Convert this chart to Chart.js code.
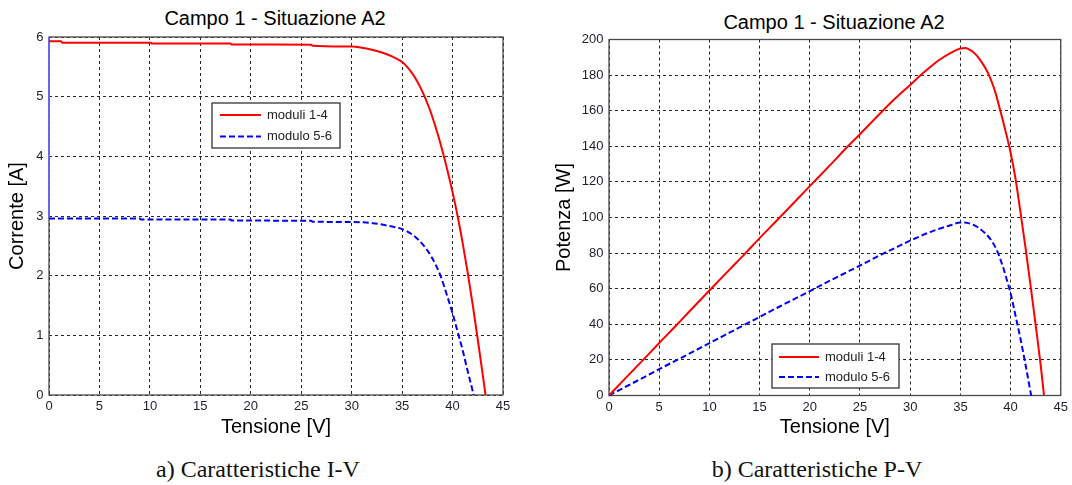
<!DOCTYPE html>
<html>
<head>
<meta charset="utf-8">
<script src="https://cdn.jsdelivr.net/npm/chart.js@4.4.0/dist/chart.umd.min.js"></script>
<style>
  html, body { margin: 0; padding: 0; background: #fff; }
  body { width: 1072px; height: 485px; position: relative; overflow: hidden; font-family: 'Liberation Sans', Arial, sans-serif; }
  .panel { position: absolute; top: 0; }
  .title { position: absolute; font-size: 20px; color: #000; white-space: nowrap; transform: translate(-50%, -50%); }
  .caption { position: absolute; font-family: 'Liberation Serif', 'Times New Roman', serif; font-size: 24px; color: #111; white-space: nowrap; transform: translate(-50%, -50%); }
</style>
</head>
<body>
<div class="title" style="left:275px; top:18px;">Campo 1 - Situazione A2</div>
<div class="title" style="left:834px; top:22px;">Campo 1 - Situazione A2</div>

<div class="panel" style="left:0; width:540px; height:445px;"><canvas id="ivChart" width="540" height="445"></canvas></div>
<div class="panel" style="left:540px; width:532px; height:445px;"><canvas id="pvChart" width="532" height="445"></canvas></div>

<div class="caption" style="left:258px; top:469px;">a) Caratteristiche I-V</div>
<div class="caption" style="left:817px; top:469px;">b) Caratteristiche P-V</div>

<script>
// Series labels
const seriesNames = ['moduli 1-4', 'modulo 5-6'];

// I-V, moduli 1-4 (voltage [V], current [A])
const ivRedV = [0, 1.2, 1.3, 10.1, 10.2, 18, 18.1, 26, 26.1, 30, 31, 32, 33, 34, 35, 35.5, 36, 36.5, 37, 37.5, 38, 38.5, 39, 39.5, 40, 40.5, 41, 41.5, 42, 42.5, 43, 43.27];
const ivRedI = [5.93, 5.93, 5.905, 5.905, 5.89, 5.89, 5.875, 5.87, 5.855, 5.84, 5.82, 5.785, 5.74, 5.675, 5.58, 5.50, 5.39, 5.255, 5.09, 4.89, 4.66, 4.39, 4.09, 3.76, 3.40, 3.0, 2.55, 2.05, 1.51, 0.93, 0.33, 0];

// I-V, modulo 5-6 (first point is the vertical trace along the left axis)
const ivBlueV = [0, 0, 9, 9.1, 18, 18.1, 26, 26.1, 30, 32.1, 33.5, 35, 36, 36.8, 37.9, 38.8, 39.6, 40.0, 40.6, 41.0, 41.4, 42.1];
const ivBlueI = [6.0, 2.96, 2.96, 2.94, 2.94, 2.925, 2.92, 2.905, 2.90, 2.88, 2.84, 2.78, 2.69, 2.57, 2.32, 2.0, 1.59, 1.37, 1.0, 0.75, 0.47, 0];

// P-V, moduli 1-4 (voltage [V], power [W])
const pvRedV = [0, 1.5, 3.4, 5, 6.8, 8, 10, 12, 13.6, 15, 17, 18.7, 20, 22, 23.8, 25, 27, 28.5, 30, 31.2, 32, 33, 34, 35, 35.5, 36, 36.5, 37, 37.5, 38, 38.5, 39, 39.5, 40, 40.5, 41, 41.5, 42, 42.5, 43, 43.33];
const pvRedP = [0, 8.9, 20, 29.5, 40, 47.2, 59, 70.7, 80, 88.4, 100, 110, 117.6, 129.3, 140, 146.8, 158.4, 166.8, 174.5, 180.8, 184.6, 188.9, 192.3, 195, 195.2, 194, 191.8, 188.3, 183.8, 178, 170, 159.5, 148.5, 136.5, 121.5, 102.5, 82.5, 61.5, 39.5, 17, 0];

// P-V, modulo 5-6
const pvBlueV = [0, 2, 4, 5, 7, 10, 12, 14, 15, 17, 20, 22, 25, 27, 29, 30, 32.3, 34, 35, 36, 36.8, 37.5, 38, 38.6, 39.2, 39.6, 40, 40.6, 41, 41.4, 42.05];
const pvBlueP = [0, 5.9, 11.8, 14.8, 20.6, 29.4, 35.3, 41.2, 44.1, 50, 58.6, 64.5, 73, 78.8, 84.3, 87, 92.5, 95.6, 97.2, 96.5, 94.3, 91, 87.8, 82, 73, 65.5, 57.5, 42, 31.5, 20, 0];

const FONT = "'Liberation Sans', Arial, sans-serif";
const TICK_COLOR = '#1e1e28';

const toPoints = (xs, ys) => xs.map((x, i) => ({ x: x, y: ys[i] }));

// MATLAB-like box around the axes
const axesBox = {
  id: 'axesBox',
  beforeDatasetsDraw(chart) {
    const { ctx, chartArea: a } = chart;
    ctx.save();
    ctx.strokeStyle = '#4a4a4a';
    ctx.lineWidth = 1.3;
    ctx.strokeRect(a.left, a.top, a.right - a.left, a.bottom - a.top);
    ctx.restore();
  }
};

// Boxed legend drawn inside the plot, built from the datasets
const boxLegend = {
  id: 'boxLegend',
  afterDatasetsDraw(chart, args, opts) {
    const { ctx } = chart;
    ctx.save();
    ctx.fillStyle = '#fff';
    ctx.fillRect(opts.left, opts.top, opts.width, opts.height);
    ctx.strokeStyle = '#333';
    ctx.lineWidth = 1.3;
    ctx.strokeRect(opts.left, opts.top, opts.width, opts.height);
    ctx.font = '13px ' + FONT;
    ctx.textBaseline = 'middle';
    chart.data.datasets.forEach((ds, i) => {
      const y = opts.top + opts.rows[i];
      ctx.strokeStyle = ds.borderColor;
      ctx.lineWidth = ds.borderWidth;
      ctx.setLineDash(ds.borderDash || []);
      ctx.beginPath();
      ctx.moveTo(opts.left + opts.lineStart, y);
      ctx.lineTo(opts.left + opts.lineEnd, y);
      ctx.stroke();
      ctx.setLineDash([]);
      ctx.fillStyle = '#222';
      ctx.fillText(ds.label, opts.left + opts.textX, y);
    });
    ctx.restore();
  }
};

function makeChart(canvasId, cfg) {
  const ctx = document.getElementById(canvasId).getContext('2d');
  return new Chart(ctx, {
    type: 'line',
    data: {
      datasets: [
        {
          label: seriesNames[0],
          data: cfg.red,
          borderColor: '#ff0000',
          borderWidth: 2,
          pointRadius: 0,
          cubicInterpolationMode: 'monotone',
          fill: false
        },
        {
          label: seriesNames[1],
          data: cfg.blue,
          borderColor: '#0000ff',
          borderWidth: 2,
          borderDash: [6, 3],
          pointRadius: 0,
          cubicInterpolationMode: 'monotone',
          fill: false,
          clip: false,
          segment: cfg.blueSegment || {}
        }
      ]
    },
    options: {
      responsive: false,
      animation: false,
      devicePixelRatio: 1,
      layout: { padding: { top: cfg.padTop, right: cfg.padRight, left: 0, bottom: 0 } },
      plugins: {
        legend: { display: false },
        tooltip: { enabled: false },
        boxLegend: cfg.legend
      },
      scales: {
        x: {
          type: 'linear',
          min: 0,
          max: 45,
          ticks: { stepSize: 5, color: TICK_COLOR, font: { size: 13, family: FONT }, padding: 4 },
          grid: { color: '#262626', lineWidth: 1, drawTicks: false },
          border: { display: false, dash: [3, 3] },
          title: { display: true, text: 'Tensione [V]', color: '#000', font: { size: 20, family: FONT }, padding: { top: 0, bottom: 6 } },
          afterFit: s => { s.height = 445 - cfg.bottom; }
        },
        y: {
          type: 'linear',
          min: 0,
          max: cfg.yMax,
          ticks: { stepSize: cfg.yStep, color: TICK_COLOR, font: { size: 13, family: FONT }, padding: 5.5 },
          grid: { color: '#262626', lineWidth: 1, drawTicks: false },
          border: { display: false, dash: [3, 3] },
          title: { display: true, text: cfg.yTitle, color: '#000', font: { size: 20, family: FONT }, padding: { top: cfg.yTitlePad, bottom: 0 } },
          afterFit: s => { s.width = cfg.yWidth; }
        }
      }
    },
    plugins: [axesBox, boxLegend]
  });
}

makeChart('ivChart', {
  red: toPoints(ivRedV, ivRedI),
  blue: toPoints(ivBlueV, ivBlueI),
  blueSegment: {
    borderColor: c => c.p0DataIndex === 0 ? 'rgba(100,100,255,0.85)' : undefined,
    borderDash: c => c.p0DataIndex === 0 ? [] : undefined
  },
  yMax: 6,
  yStep: 1,
  yTitle: 'Corrente [A]',
  yTitlePad: 5.5,
  yWidth: 49,
  padTop: 37,
  padRight: 37,
  bottom: 395,
  legend: { left: 212, top: 103, width: 128, height: 45, rows: [12, 33.5], lineStart: 8, lineEnd: 49, textX: 55 }
});

makeChart('pvChart', {
  red: toPoints(pvRedV, pvRedP),
  blue: toPoints(pvBlueV, pvBlueP),
  yMax: 200,
  yStep: 20,
  yTitle: 'Potenza [W]',
  yTitlePad: 12.5,
  yWidth: 69,
  padTop: 39.5,
  padRight: 11,
  bottom: 395.5,
  legend: { left: 232, top: 344, width: 127, height: 44, rows: [13, 33], lineStart: 7, lineEnd: 47, textX: 53 }
});
</script>
</body>
</html>
